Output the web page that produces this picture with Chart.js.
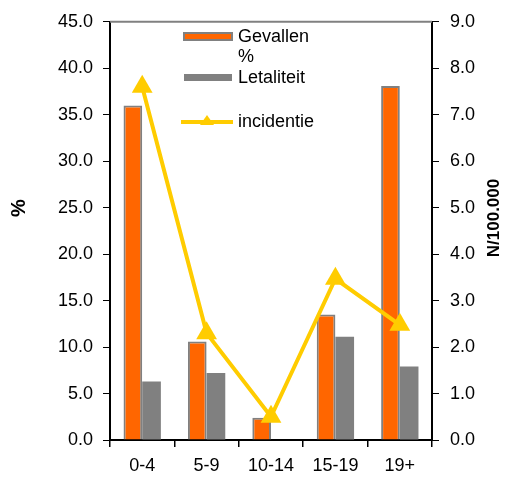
<!DOCTYPE html>
<html>
<head>
<meta charset="utf-8">
<script src="https://cdn.jsdelivr.net/npm/chart.js@4.4.0/dist/chart.umd.min.js"></script>
<style>
  html, body { margin: 0; padding: 0; background: #fff; }
  #wrap { width: 507px; height: 484px; }
</style>
</head>
<body>
<div id="wrap"><canvas id="chart" width="507" height="484"></canvas></div>
<script>
// data
const categories = ["0-4", "5-9", "10-14", "15-19", "19+"];
const gevallen = [36.0, 10.6, 2.4, 13.5, 38.1];
const letaliteit = [6.3, 7.2, 0, 11.1, 7.9];
const incidentie = [7.6, 2.3, 0.5, 3.47, 2.48];

const leftTitle = "%";
const rightTitle = "N/100.000";

const ORANGE = "#ff6600";
const GREY = "#808080";
const YELLOW = "#ffcc00";
const FONT = "'Liberation Sans', Arial, sans-serif";

Chart.defaults.font.family = FONT;
Chart.defaults.color = "#000";

// legend + axis titles + top border
const extras = {
  id: "extras",
  afterDraw(chart) {
    const ctx = chart.ctx;
    const a = chart.chartArea;
    ctx.save();

    // grey top border of plot
    ctx.strokeStyle = GREY;
    ctx.lineWidth = 2;
    ctx.beginPath();
    ctx.moveTo(a.left, a.top);
    ctx.lineTo(a.right, a.top);
    ctx.stroke();

    // axis titles
    ctx.fillStyle = "#000";
    ctx.textAlign = "center";
    ctx.textBaseline = "middle";
    ctx.font = "bold 20px " + FONT;
    ctx.save();
    ctx.translate(19, 208);
    ctx.rotate(-Math.PI / 2);
    ctx.fillText(leftTitle, 0, 0);
    ctx.restore();
    ctx.font = "bold 17px " + FONT;
    ctx.save();
    ctx.translate(494, 218);
    ctx.rotate(-Math.PI / 2);
    ctx.fillText(rightTitle, 0, 0);
    ctx.restore();

    // legend
    ctx.textAlign = "left";
    ctx.font = "18px " + FONT;
    ctx.fillStyle = ORANGE;
    ctx.fillRect(184, 33, 48, 7);
    ctx.strokeStyle = GREY;
    ctx.lineWidth = 2;
    ctx.strokeRect(184, 33, 48, 7);
    ctx.fillStyle = "#000";
    ctx.fillText("Gevallen", 238, 37);
    ctx.fillText("%", 238, 57);

    ctx.fillStyle = GREY;
    ctx.fillRect(184, 74, 48, 7);
    ctx.fillStyle = "#000";
    ctx.fillText("Letaliteit", 238, 78);

    ctx.strokeStyle = YELLOW;
    ctx.lineWidth = 4;
    ctx.beginPath();
    ctx.moveTo(181, 122);
    ctx.lineTo(233, 122);
    ctx.stroke();
    ctx.fillStyle = YELLOW;
    ctx.beginPath();
    ctx.moveTo(207, 115);
    ctx.lineTo(214, 125);
    ctx.lineTo(200, 125);
    ctx.closePath();
    ctx.fill();
    ctx.fillStyle = "#000";
    ctx.fillText("incidentie", 238, 122);

    ctx.restore();
  }
};

new Chart(document.getElementById("chart"), {
  data: {
    labels: categories,
    datasets: [
      {
        type: "line",
        label: "incidentie",
        data: incidentie,
        yAxisID: "y2",
        borderColor: YELLOW,
        backgroundColor: YELLOW,
        borderWidth: 4,
        pointStyle: "triangle",
        pointRadius: 12,
        pointBorderWidth: 0,
        pointBackgroundColor: YELLOW,
        tension: 0,
        order: 0
      },
      {
        type: "bar",
        label: "Gevallen %",
        data: gevallen,
        yAxisID: "y",
        backgroundColor: ORANGE,
        borderColor: GREY,
        borderWidth: 2,
        categoryPercentage: 0.58,
        barPercentage: 1,
        order: 1
      },
      {
        type: "bar",
        label: "Letaliteit",
        data: letaliteit,
        yAxisID: "y",
        backgroundColor: GREY,
        borderWidth: 0,
        categoryPercentage: 0.58,
        barPercentage: 1,
        order: 2
      }
    ]
  },
  options: {
    responsive: false,
    animation: false,
    layout: { padding: { top: 20 } },
    plugins: {
      legend: { display: false },
      tooltip: { enabled: false }
    },
    scales: {
      x: {
        offset: true,
        grid: { offset: true, drawOnChartArea: false, color: "#000", tickLength: 7, lineWidth: 1.5 },
        border: { color: "#000", width: 2 },
        ticks: { font: { size: 18 }, padding: 8, maxRotation: 0 },
        afterFit(s) { s.height = 44; }
      },
      y: {
        position: "left",
        min: 0,
        max: 45,
        grid: { drawOnChartArea: false, color: "#000", tickLength: 7 },
        border: { color: "#000", width: 2 },
        ticks: { stepSize: 5, font: { size: 18 }, padding: 10, callback: v => v.toFixed(1) },
        afterFit(s) { s.width = 110; }
      },
      y2: {
        position: "right",
        min: 0,
        max: 9,
        grid: { drawOnChartArea: false, color: "#000", tickLength: 7 },
        border: { color: "#000", width: 2 },
        ticks: { stepSize: 1, font: { size: 18 }, padding: 11, callback: v => v.toFixed(1) },
        afterFit(s) { s.width = 75; }
      }
    }
  },
  plugins: [extras]
});
</script>
</body>
</html>
